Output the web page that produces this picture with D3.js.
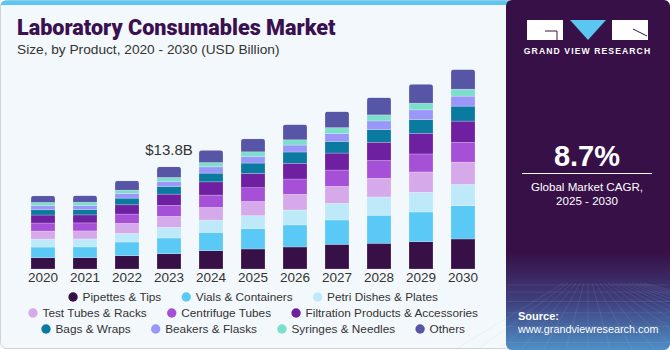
<!DOCTYPE html>
<html><head><meta charset="utf-8">
<script src="https://cdn.jsdelivr.net/npm/d3@7"></script>
<style>
html,body{margin:0;padding:0;background:#ffffff;}
svg{display:block;}
</style></head>
<body>
<svg id="chart" width="670" height="350"></svg>
<script>
const years = ["2020","2021","2022","2023","2024","2025","2026","2027","2028","2029","2030"];
const seriesNames = ["Pipettes & Tips","Vials & Containers","Petri Dishes & Plates","Test Tubes & Racks","Centrifuge Tubes","Filtration Products & Accessories","Bags & Wraps","Beakers & Flasks","Syringes & Needles","Others"];
const seriesColors = ["#371047","#5bc9f5","#bde9f9","#d6a9ea","#a550d6","#6f20a0","#0b7aa0","#9b97fa","#7cdfcc","#5655a6"];
// values in USD billion, per series, per year
const pipettes   = [1.52,1.53,1.79,2.06,2.47,2.70,2.97,3.33,3.47,3.68,4.05];
const vials      = [1.44,1.45,1.85,2.12,2.47,2.74,2.97,3.28,3.78,4.01,4.49];
const petri      = [1.08,1.08,1.17,1.44,1.66,1.75,2.02,2.25,2.47,2.66,2.87];
const testTubes  = [1.08,1.08,1.35,1.48,1.71,1.93,2.12,2.29,2.52,2.74,3.01];
const centrifuge = [1.08,1.08,1.25,1.48,1.66,1.85,2.06,2.20,2.39,2.43,2.66];
const filtration = [1.08,1.08,1.25,1.52,1.79,1.93,2.12,2.29,2.47,2.79,2.87];
const bags       = [0.71,0.72,0.90,1.04,1.17,1.39,1.52,1.58,1.71,1.85,2.02];
const beakers    = [0.54,0.54,0.63,0.67,0.85,0.85,0.94,1.04,1.17,1.31,1.35];
const syringes   = [0.45,0.45,0.45,0.54,0.58,0.67,0.71,0.81,0.81,0.90,0.94];
const others     = [0.89,0.89,1.25,1.44,1.66,1.75,2.06,2.16,2.33,2.56,2.66];
const seriesValues = [pipettes,vials,petri,testTubes,centrifuge,filtration,bags,beakers,syringes,others];
const annotation = {year:"2023", text:"$13.8B"};

const svg = d3.select("#chart");
const FONT = "'Liberation Sans', Arial, sans-serif";

// ---- left card ----
svg.append("rect").attr("x",0.5).attr("y",0.5).attr("width",512).attr("height",348)
  .attr("rx",6).attr("fill","#f3f8fc").attr("stroke","#cfd3d6").attr("stroke-width",1);
svg.append("path").attr("d","M0.5,6.5 Q0.5,0.5 6.5,0.5 L512,0.5 L512,5 L0.5,5 Z").attr("fill","#5bc6ef");

// title
svg.append("text").attr("x",17).attr("y",35).text("Laboratory Consumables Market")
  .attr("font-family","Roboto, 'Liberation Sans', sans-serif").attr("font-weight",900)
  .attr("font-size",21.6).attr("fill","#3a1050");
svg.append("text").attr("x",17).attr("y",54).text("Size, by Product, 2020 - 2030 (USD Billion)")
  .attr("font-family",FONT).attr("font-size",13.7).attr("fill","#333");

// ---- data table ----
const table = years.map((y,i)=>{
  const row = {year:y};
  seriesNames.forEach((s,j)=>row[s]=seriesValues[j][i]);
  return row;
});
const stack = d3.stack().keys(seriesNames)(table);

const x = d3.scaleBand().domain(years).range([22,484]).paddingInner(18/42).paddingOuter(9/42);
const y = d3.scaleLinear().domain([0,30]).range([269, 269 - 30*102.3/13.8]);

const defs = svg.append("defs");
const totals = table.map(r=>d3.sum(seriesNames,k=>r[k]));
years.forEach((yr,i)=>{
  defs.append("clipPath").attr("id","clip"+yr).append("rect")
    .attr("x",x(yr)).attr("y",y(totals[i])).attr("width",x.bandwidth())
    .attr("height",y(0)-y(totals[i])+6).attr("rx",3);
});

const g = svg.append("g");
stack.forEach((layer,j)=>{
  g.selectAll(null).data(layer).enter().append("rect")
    .attr("clip-path",d=>`url(#clip${d.data.year})`)
    .attr("x",d=>x(d.data.year)).attr("width",x.bandwidth())
    .attr("y",d=>y(d[1])).attr("height",d=>y(d[0])-y(d[1]))
    .attr("fill",seriesColors[j])
    .attr("stroke","rgba(255,255,255,0.35)").attr("stroke-width",0.6);
});

// x axis labels
const xAxis = d3.axisBottom(x).tickSize(0).tickPadding(0);
const ax = svg.append("g").attr("transform","translate(0,272)").call(xAxis);
ax.select(".domain").remove();
ax.selectAll("text").attr("font-family",FONT).attr("font-size",13.5).attr("fill","#333").attr("dy","0.71em");

// annotation
const ai = years.indexOf(annotation.year);
svg.append("text").attr("x",x(annotation.year)+x.bandwidth()/2).attr("y",y(totals[ai])-12)
  .attr("text-anchor","middle").text(annotation.text)
  .attr("font-family",FONT).attr("font-size",15).attr("fill","#333");

// legend
const legendRows = [[0,1,2],[3,4,5],[6,7,8,9]];
const rowY = [297,313,329];
const lg = svg.append("g");
legendRows.forEach((row,ri)=>{
  const items = row.map(j=>{
    const gg = lg.append("g");
    gg.append("circle").attr("r",4.7).attr("cx",0).attr("cy",0).attr("fill",seriesColors[j]);
    const t = gg.append("text").attr("x",9.5).attr("y",0).attr("dy","0.35em").text(seriesNames[j])
      .attr("font-family",FONT).attr("font-size",11.8).attr("fill","#333");
    return {gg, w: 9.5 + t.node().getComputedTextLength()};
  });
  const gap = 25;
  const total = d3.sum(items,d=>d.w) + gap*(items.length-1) + 5;
  let cx = 253 - total/2 + 5;
  items.forEach(it=>{
    it.gg.attr("transform",`translate(${cx},${rowY[ri]})`);
    cx += it.w + gap;
  });
});

// ---- right panel ----
const grad = defs.append("linearGradient").attr("id","rg").attr("x1",0).attr("y1",0).attr("x2",0).attr("y2",1);
grad.append("stop").attr("offset","0").attr("stop-color","#371047");
grad.append("stop").attr("offset","0.72").attr("stop-color","#371047");
grad.append("stop").attr("offset","0.86").attr("stop-color","#3f3f7d");
grad.append("stop").attr("offset","1").attr("stop-color","#4f8fc6");
svg.append("rect").attr("x",506).attr("y",0).attr("width",164).attr("height",350).attr("rx",6).attr("fill","url(#rg)");
// decorative grid lines
const grid = svg.append("g").attr("stroke","rgba(160,200,240,0.18)").attr("stroke-width",0.7).attr("fill","none");
for(let i=0;i<8;i++){ const yy = 285 + i*i*1.1 + i*6; grid.append("line").attr("x1",507).attr("x2",669).attr("y1",yy).attr("y2",yy); }
for(let i=-6;i<=14;i++){ grid.append("line").attr("x1",588 + i*4).attr("y1",283).attr("x2",588 + i*22).attr("y2",349); }

// logo
svg.append("rect").attr("x",527).attr("y",20).attr("width",36).attr("height",20).attr("fill","#fff");
svg.append("path").attr("d","M545,31 L557,31 L557,40").attr("stroke","#371047").attr("stroke-width",1).attr("fill","none");
svg.append("path").attr("d","M570,20 L606,20 L588,40 Z").attr("fill","#5bc6ef");
svg.append("rect").attr("x",612).attr("y",20).attr("width",36).attr("height",20).attr("fill","#fff");
svg.append("path").attr("d","M633,29 L647,36").attr("stroke","#371047").attr("stroke-width",1);
svg.append("text").attr("x",587.5).attr("y",54).attr("text-anchor","middle").text("GRAND VIEW RESEARCH")
  .attr("font-family",FONT).attr("font-weight","bold").attr("font-size",8.6).attr("letter-spacing",1.1).attr("fill","#fff");

svg.append("text").attr("x",587).attr("y",166).attr("text-anchor","middle").text("8.7%")
  .attr("font-family",FONT).attr("font-weight","bold").attr("font-size",29).attr("fill","#fff");
svg.append("line").attr("x1",522).attr("x2",652).attr("y1",173.5).attr("y2",173.5).attr("stroke","#fff").attr("stroke-width",1);
svg.append("text").attr("x",587).attr("y",191).attr("text-anchor","middle").text("Global Market CAGR,")
  .attr("font-family",FONT).attr("font-size",11.6).attr("fill","#fff");
svg.append("text").attr("x",587).attr("y",205).attr("text-anchor","middle").text("2025 - 2030")
  .attr("font-family",FONT).attr("font-size",11.6).attr("fill","#fff");

svg.append("text").attr("x",518).attr("y",320).text("Source:")
  .attr("font-family",FONT).attr("font-weight","bold").attr("font-size",11).attr("fill","#fff");
svg.append("text").attr("x",518).attr("y",333).text("www.grandviewresearch.com")
  .attr("font-family",FONT).attr("font-size",10.8).attr("fill","#fff");
</script>
</body></html>
